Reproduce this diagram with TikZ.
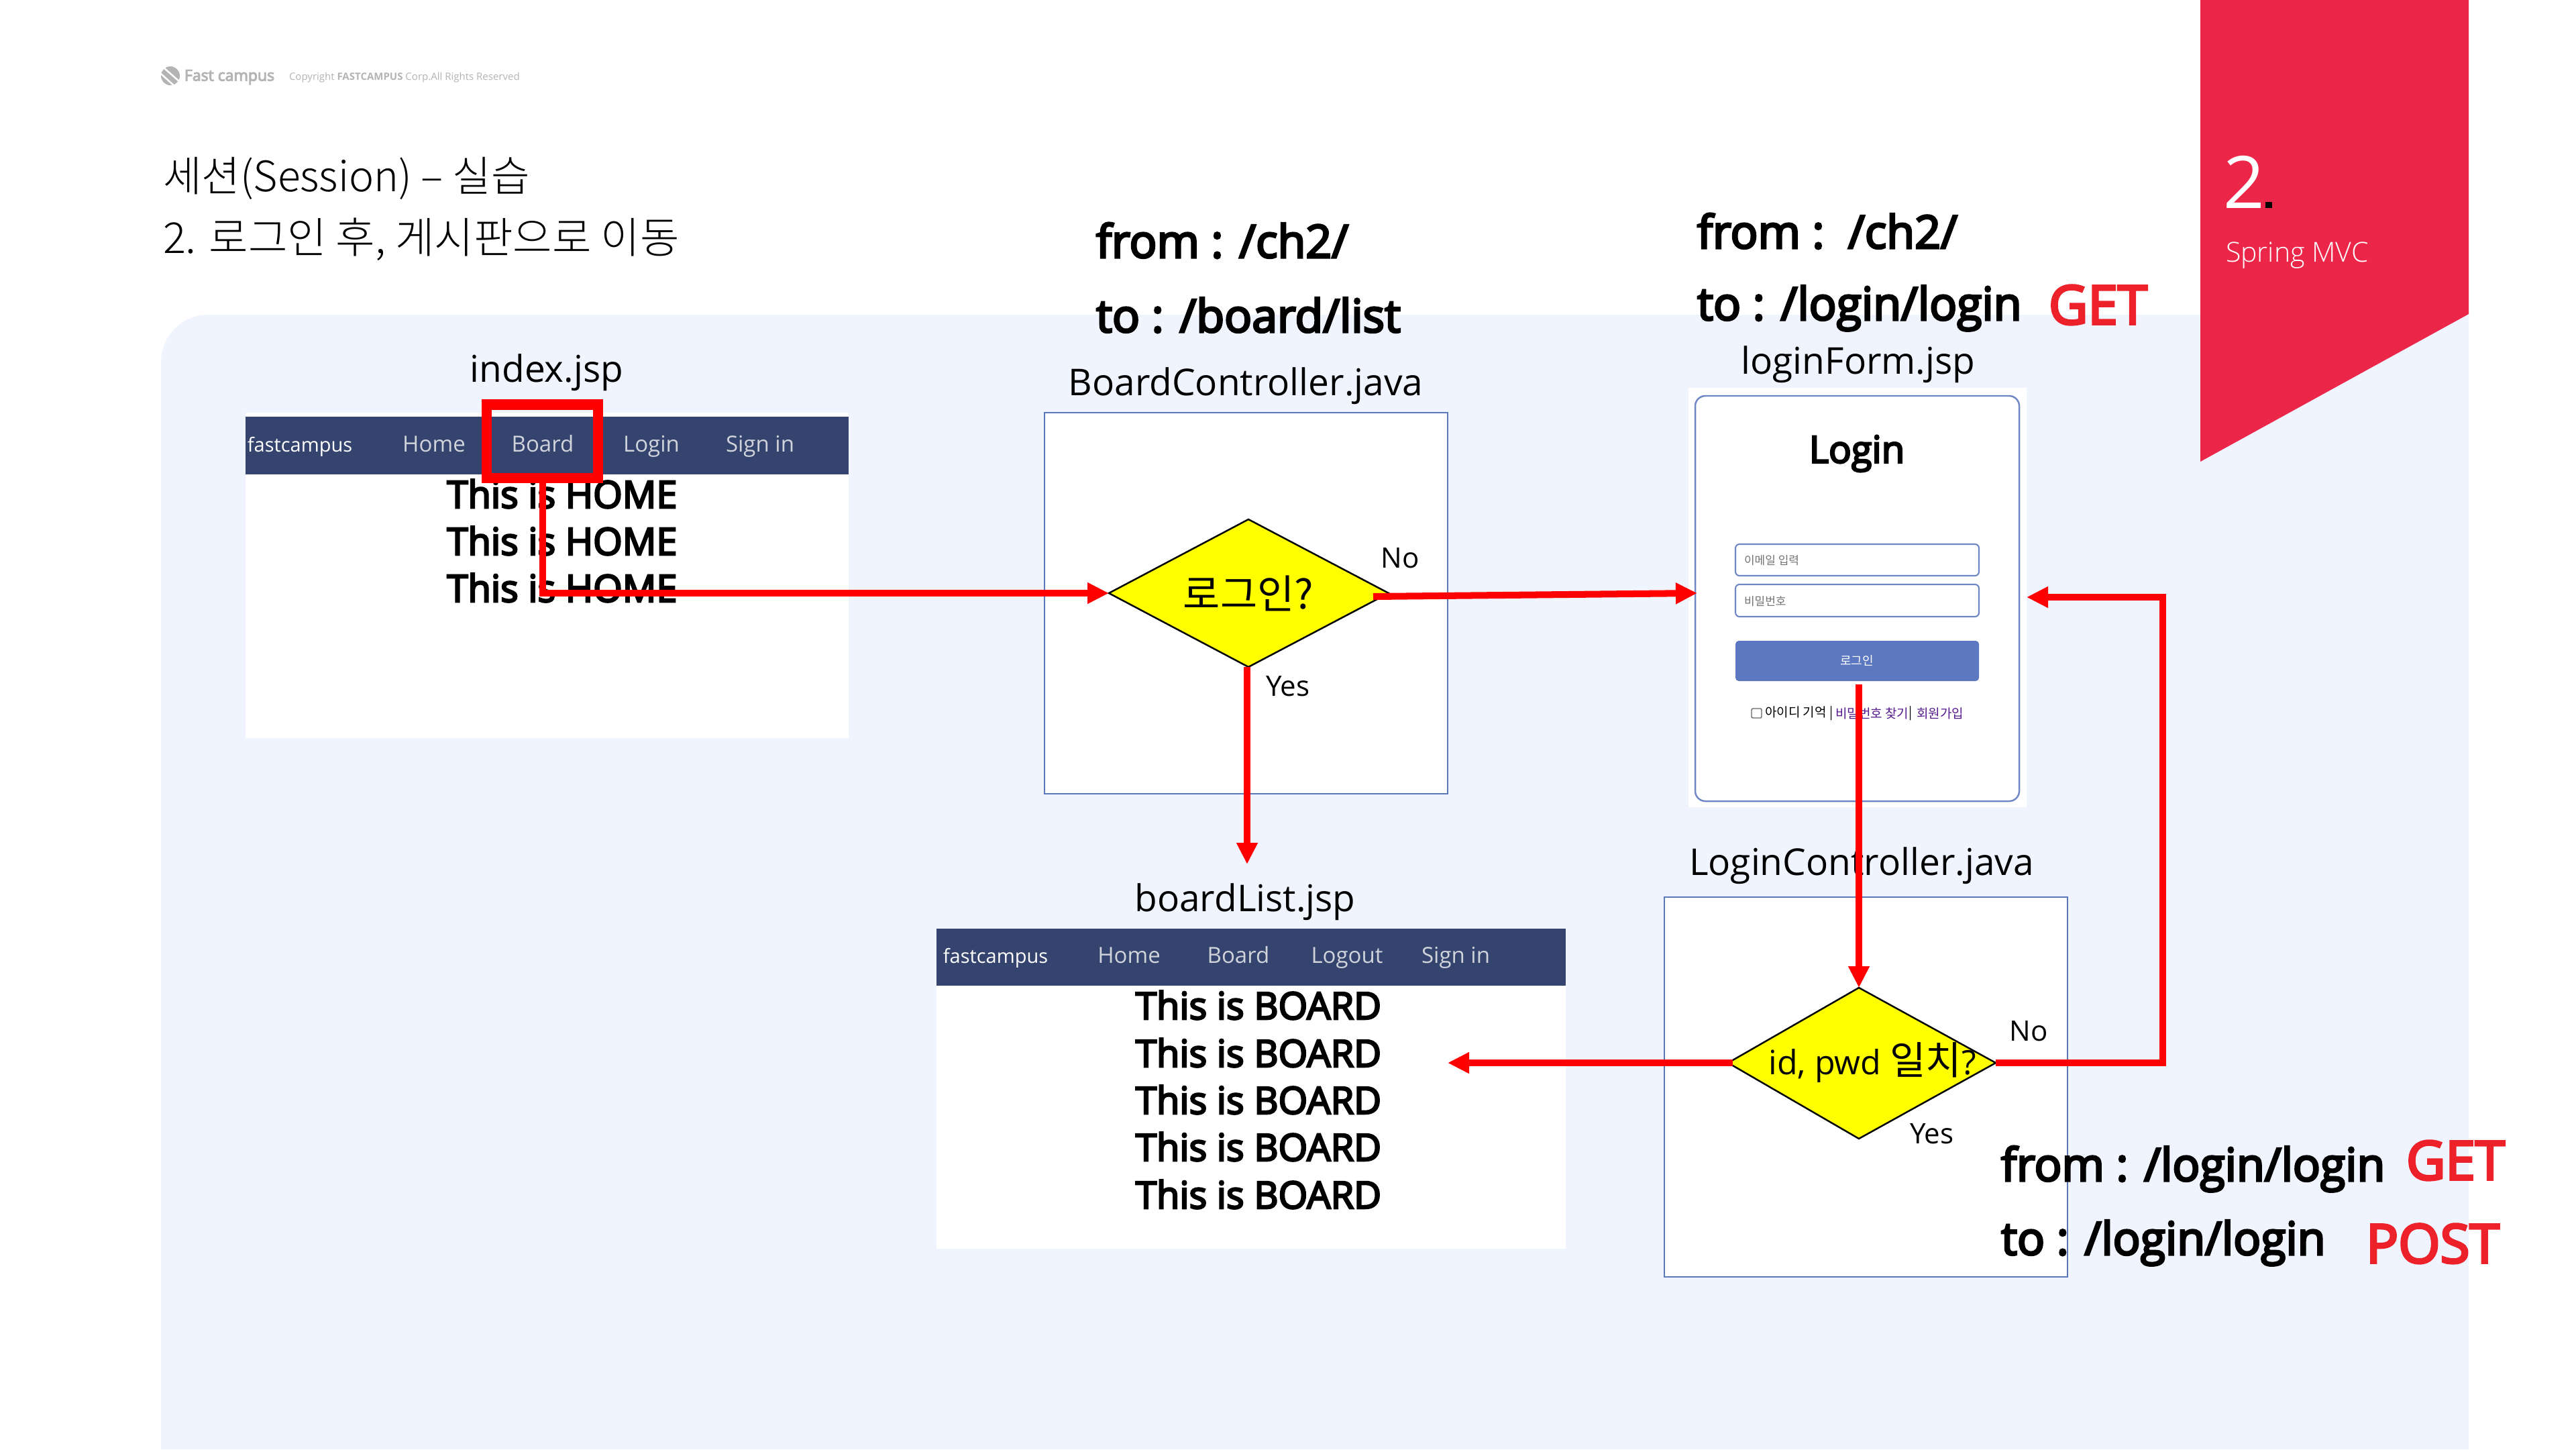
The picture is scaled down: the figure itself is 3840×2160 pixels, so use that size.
\documentclass[tikz,border=0pt]{standalone}
\usepackage{fontspec}
\usetikzlibrary{shapes.geometric,arrows.meta,calc}
\setmainfont{Open Sans}
\newfontfamily\semib[FakeBold=4.5]{Open Sans}
\newfontfamily\kr{Noto Sans CJK KR}
\IfFontExistsTF{Noto Sans CJK KR Light}{\newfontfamily\krl{Noto Sans CJK KR Light}}{\newfontfamily\krl{Noto Sans CJK KR}}
\IfFontExistsTF{Open Sans Light}{\newfontfamily\olight{Open Sans Light}}{\newfontfamily\olight{Open Sans}}
\newcommand{\px}[1]{\pgfmathsetlengthmacro\pxsize{#1*0.2845pt}\fontsize{\pxsize}{\pxsize}\selectfont}
\definecolor{panel}{HTML}{F0F4FE}
\definecolor{tag}{HTML}{EC2649}
\definecolor{navy}{HTML}{34446E}
\definecolor{edgeblue}{HTML}{5B78B8}
\definecolor{cardline}{HTML}{6F87C4}
\definecolor{btn}{HTML}{5B78C0}
\definecolor{linkp}{HTML}{551A8B}
\definecolor{methodred}{HTML}{ED2129}
\definecolor{navgrey}{HTML}{D0D3DA}
\definecolor{logogrey}{HTML}{B4B4B4}
\definecolor{decideyellow}{RGB}{255,255,0}
\definecolor{linered}{RGB}{255,0,0}
\tikzset{
  txt/.style={inner sep=0pt,outer sep=0pt,text=black},
  lab/.style={txt,font=\px{55}},
  route/.style={txt,anchor=base west,font=\semib\px{68}},
  method/.style={txt,anchor=base west,text=methodred,font=\semib\px{80}},
  navbrand/.style={txt,anchor=base,text=white,font=\px{29}},
  navitem/.style={txt,anchor=base,text=navgrey,font=\px{33}},
  body/.style={txt,anchor=base,font=\semib\px{56}},
  yn/.style={txt,font=\px{42}},
  decide/.style={draw=black,fill=decideyellow,line width=0.7pt},
  ctrl/.style={draw=edgeblue,fill=white,line width=0.7pt},
  redarrow/.style={draw=linered,line width=2.85pt,-{Triangle[length=9.1pt,width=8.5pt]}},
  field/.style={draw=cardline,fill=white,line width=0.6pt,rounded corners=1.7pt},
  ph/.style={txt,anchor=west,text=black!55,font=\kr\px{17}},
}
\begin{document}
\begin{tikzpicture}[x=0.01cm,y=-0.01cm,line join=miter]
\useasboundingbox (0,0) rectangle (3840,2160);
\fill[white] (0,0) rectangle (3840,2160);
% panel
\fill[panel] (240,2160) [rounded corners=20pt] -- (240,469) [sharp corners] -- (3680,469) -- (3680,2160) -- cycle;
% tag
\fill[tag] (3280,0) -- (3680,0) -- (3680,468) -- (3280,688) -- cycle;
\node[txt,anchor=base west,text=white,font=\px{108}] (two) at (3314,310) {2};
\fill[black] (3377,301) rectangle (3387,310);
\node[txt,anchor=base west,text=white,font=\olight\px{41}] (spring) at (3318,390) {Spring MVC};
% logo
\fill[logogrey] (254,113) circle[radius=4pt];
\draw[white,line width=0.7pt] (243,100) -- (268,122) (240,110) -- (262,130);
\node[txt,anchor=west,text=logogrey,font=\semib\px{23}] (fc) at (275,115) {Fast campus};
\node[txt,anchor=west,text=logogrey,font=\px{15}] (copy) at (431,116) {Copyright \textbf{FASTCAMPUS} Corp.All Rights Reserved};
% title
\node[txt,anchor=west,font=\krl\px{62.5}] (t1) at (243,266) {세션(Session) – 실습};
\node[txt,anchor=west,font=\krl\px{63.5}] (t2) at (243,357) {2. 로그인 후, 게시판으로 이동};
% index card
\fill[white] (366,615) rectangle (1265,1100);
\fill[navy] (366,621) rectangle (1265,707);
\node[lab] (idx) at (815,555) {index.jsp};
\node[navbrand] (a1) at (447,673) {fastcampus};
\node[navitem] (a2) at (647,673) {Home};
\node[navitem] (a3) at (809,673) {Board};
\node[navitem] (a4) at (971,673) {Login};
\node[navitem] (a5) at (1133,673) {Sign in};
\node[body] (a6) at (838,757) {This is HOME};
\node[body] (a7) at (838,827) {This is HOME};
\node[body] (a8) at (838,897) {This is HOME};
\node[draw=linered,line width=4.27pt,minimum width=47.2pt,minimum height=31pt,inner sep=0pt,outer sep=2.13pt] (boardbtn) at (808.5,657.5) {};
% board controller
\node[lab] (bcl) at (1857,575) {BoardController.java};
\path[ctrl] (1557,615) rectangle (2158,1183);
\path[decide] (1861,774) -- (2070,884) -- (1861,994) -- (1653,884) -- cycle;
\coordinate (d1w) at (1653,884);
\coordinate (d1e) at (2047,889);
\coordinate (d1s) at (1859,994);
\node[txt,font=\kr\px{60}] (d1t) at (1861,884) {로그인?};
\node[yn] (no1) at (2087,832) {No};
\node[yn] (yes1) at (1920,1023) {Yes};
% login card
\fill[white] (2517,578) rectangle (3021,1203);
\draw[cardline,line width=0.7pt,rounded corners=4.3pt] (2527,590) rectangle (3010,1194);
\node[txt,font=\semib\px{56}] (logintitle) at (2768,676) {Login};
\path[field] (2587,811) rectangle (2950,858);
\path[field] (2587,871) rectangle (2950,919);
\fill[btn,rounded corners=1.4pt] (2587,955) rectangle (2950,1015);
\node[ph] (p1) at (2600,835) {이메일 입력};
\node[ph] (p2) at (2600,896) {비밀번호};
\node[txt,text=white,font=\kr\px{18}] (p3) at (2768,985) {로그인};
\draw[black!60,line width=0.4pt,rounded corners=0.6pt] (2611,1056) rectangle (2626,1070);
\node[txt,anchor=west,font=\kr\px{19}] (p4) at (2631,1063) {아이디 기억 |};
\node[txt,anchor=west,text=linkp,font=\kr\px{19}] (p5) at (2736,1063) {비밀번호 찾기};
\node[txt,anchor=west,font=\kr\px{19}] (p6) at (2845,1063) {|};
\node[txt,anchor=west,text=linkp,font=\kr\px{19}] (p7) at (2857,1063) {회원가입};
\coordinate (lw) at (2530,884);
\coordinate (le) at (3021,890);
\coordinate (ls) at (2771,1020);
\node[lab] (lfl) at (2770,543) {loginForm.jsp};
% login controller
\node[lab] (lcl) at (2775,1290) {LoginController.java};
\path[ctrl] (2481,1337) rectangle (3082,1903);
\path[decide] (2771,1472) -- (2975,1584) -- (2771,1697) -- (2576,1584) -- cycle;
\coordinate (d2n) at (2771,1472);
\coordinate (d2w) at (2583,1584);
\coordinate (d2e) at (2975,1584);
\coordinate (bend1) at (3224,1584);
\coordinate (bend2) at (3224,890);
\node[txt,font=\px{50}] (d2t) at (2791,1583) {id, pwd {\kr\px{58}일치}?};
\node[yn] (no2) at (3024,1537) {No};
\node[yn] (yes2) at (2880,1690) {Yes};
% board list
\fill[white] (1396,1384) rectangle (2334,1861);
\fill[navy] (1396,1384) rectangle (2334,1469);
\node[lab] (bll) at (1856,1344) {boardList.jsp};
\node[navbrand] (b1) at (1484,1435) {fastcampus};
\node[navitem] (b2) at (1683,1435) {Home};
\node[navitem] (b3) at (1846,1435) {Board};
\node[navitem] (b4) at (2008,1435) {Logout};
\node[navitem] (b5) at (2170,1435) {Sign in};
\node[body] (b6) at (1876,1519) {This is BOARD};
\node[body] (b7) at (1876,1590) {This is BOARD};
\node[body] (b8) at (1876,1660) {This is BOARD};
\node[body] (b9) at (1876,1730) {This is BOARD};
\node[body] (b10) at (1876,1801) {This is BOARD};
\coordinate (blr) at (2158,1584);
\coordinate (blt) at (1859,1288);
% routes
\node[route] (r1) at (1634,384) {from : /ch2/};
\node[route] (r2) at (1634,495) {to : /board/list};
\node[route] (r3) at (2530,370) {from :\ \ /ch2/};
\node[route] (r4) at (2530,477) {to : /login/login};
\node[method] (m1) at (3054,483) {GET};
\node[route] (r5) at (2983,1760) {from : /login/login};
\node[route] (r6) at (2983,1870) {to : /login/login};
\node[method] (m2) at (3587,1758) {GET};
\node[method] (m3) at (3527,1882) {POST};
% connectors
\draw[redarrow] (boardbtn.south) -- (boardbtn.south |- d1w) -- (d1w);
\draw[redarrow] (d1e) -- (lw);
\draw[redarrow] (d1s) -- (blt);
\draw[redarrow] (ls) -- (d2n);
\draw[redarrow] (d2e) -- (bend1) -- (bend2) -- (le);
\draw[redarrow] (d2w) -- (blr);
\end{tikzpicture}
\end{document}
